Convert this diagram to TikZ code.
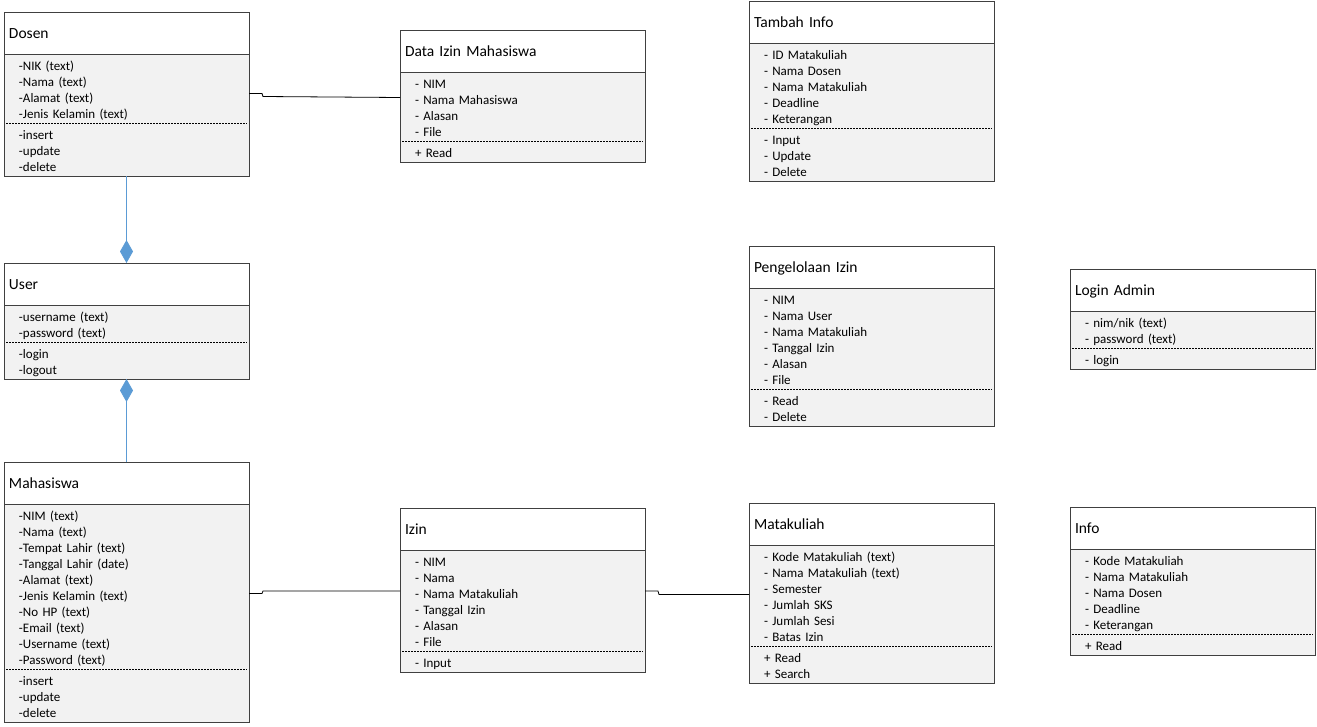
\documentclass[tikz,border=0pt]{standalone}
\usepackage{fontspec}
\setmainfont{Carlito}
\usetikzlibrary{positioning,arrows.meta}
\definecolor{bodygray}{HTML}{F2F2F2}
\definecolor{framegray}{HTML}{404040}
\definecolor{linkblue}{HTML}{5B9BD5}

\begin{document}
\begin{tikzpicture}[
    x=1pt, y=-1pt,
    outer sep=0pt,
    node distance = 0pt,
    head/.style = {rectangle, draw=framegray, line width=0.9pt, fill=white, anchor=north west, minimum width=245pt, minimum height=42pt, inner xsep=5pt, text width=235pt, align=left, text height=11pt, text depth=0pt, font=\fontsize{15.5}{18}\selectfont},
    attr/.style = {rectangle, fill=bodygray, minimum width=245pt, inner xsep=15pt, inner ysep=2.5pt, text width=215pt, align=left, font=\fontsize{13}{16}\selectfont, execute at begin node=\rule{0pt}{13.7pt}, execute at end node=\rule[-2.3pt]{0pt}{2.3pt}},
    frame/.style = {draw=framegray, line width=0.9pt},
    sep/.style = {draw=black, line width=0.7pt, dash pattern=on 2pt off 1pt, shorten <=2pt, shorten >=2pt},
    link/.style = {draw=black, line width=0.8pt},
    comp/.style = {draw=linkblue, line width=0.8pt, -{Diamond[length=23pt,width=13pt]}}
]
    \useasboundingbox (0,0) rectangle (1317,726);

    % Dosen
    \node[head] (dosen) at (4,12) {Dosen};
    \node[attr, below=of dosen] (dosen-attr) {-NIK (text)\\-Nama (text)\\-Alamat (text)\\-Jenis Kelamin (text)};
    \node[attr, below=of dosen-attr] (dosen-ops) {-insert\\-update\\-delete};

    % User
    \node[head] (user) at (4,263) {User};
    \node[attr, below=of user] (user-attr) {-username (text)\\-password (text)};
    \node[attr, below=of user-attr] (user-ops) {-login\\-logout};

    % Mahasiswa
    \node[head] (mhs) at (4,462) {Mahasiswa};
    \node[attr, below=of mhs] (mhs-attr) {-NIM (text)\\-Nama (text)\\-Tempat Lahir (text)\\-Tanggal Lahir (date)\\-Alamat (text)\\-Jenis Kelamin (text)\\-No HP (text)\\-Email (text)\\-Username (text)\\-Password (text)};
    \node[attr, below=of mhs-attr] (mhs-ops) {-insert\\-update\\-delete};

    % Data Izin Mahasiswa
    \node[head] (dataizin) at (400,30) {Data Izin Mahasiswa};
    \node[attr, below=of dataizin] (dataizin-attr) {- NIM\\- Nama Mahasiswa\\- Alasan\\- File};
    \node[attr, below=of dataizin-attr] (dataizin-ops) {+ Read};

    % Izin
    \node[head] (izin) at (400,508) {Izin};
    \node[attr, below=of izin] (izin-attr) {- NIM\\- Nama\\- Nama Matakuliah\\- Tanggal Izin\\- Alasan\\- File};
    \node[attr, below=of izin-attr] (izin-ops) {- Input};

    % Tambah Info
    \node[head] (tambah) at (749,1) {Tambah Info};
    \node[attr, below=of tambah] (tambah-attr) {- ID Matakuliah\\- Nama Dosen\\- Nama Matakuliah\\- Deadline\\- Keterangan};
    \node[attr, below=of tambah-attr] (tambah-ops) {- Input\\- Update\\- Delete};

    % Pengelolaan Izin
    \node[head] (kelola) at (749,246) {Pengelolaan Izin};
    \node[attr, below=of kelola] (kelola-attr) {- NIM\\- Nama User\\- Nama Matakuliah\\- Tanggal Izin\\- Alasan\\- File};
    \node[attr, below=of kelola-attr] (kelola-ops) {- Read\\- Delete};

    % Matakuliah
    \node[head] (matkul) at (749,503) {Matakuliah};
    \node[attr, below=of matkul] (matkul-attr) {- Kode Matakuliah (text)\\- Nama Matakuliah (text)\\- Semester\\- Jumlah SKS\\- Jumlah Sesi\\- Batas Izin};
    \node[attr, below=of matkul-attr] (matkul-ops) {+ Read\\+ Search};

    % Login Admin
    \node[head] (login) at (1070,269) {Login Admin};
    \node[attr, below=of login] (login-attr) {- nim/nik (text)\\- password (text)};
    \node[attr, below=of login-attr] (login-ops) {- login};

    % Info
    \node[head] (info) at (1070,507) {Info};
    \node[attr, below=of info] (info-attr) {- Kode Matakuliah\\- Nama Matakuliah\\- Nama Dosen\\- Deadline\\- Keterangan};
    \node[attr, below=of info-attr] (info-ops) {+ Read};

    % Frames and separators
    \foreach \c in {dosen,user,mhs,dataizin,izin,tambah,kelola,matkul,login,info} {
        \draw[frame] (\c-attr.north west) rectangle (\c-ops.south east);
        \draw[sep] (\c-attr.south west) -- (\c-attr.south east);
    }

    % Composition
    \draw[comp] (dosen-ops.south) -- (user.north);
    \draw[comp] (mhs.north) -- (user-ops.south);

    % Associations
    \draw[link] ([yshift=-5pt]dosen-attr.east) -- ++(13,0) -- ++(1,3) -- ([yshift=9pt]dataizin-attr.west);
    \draw[link] ([yshift=-7pt]mhs-attr.east) -- ++(13,0) -- ++(1,-2.5) -- ([yshift=9.5pt]izin-attr.west);
    \draw[link] ([yshift=9.5pt]izin-attr.east) -- ++(13,0) -- ++(1,3.5) -- ([yshift=1pt]matkul-attr.west);

\end{tikzpicture}
\end{document}
